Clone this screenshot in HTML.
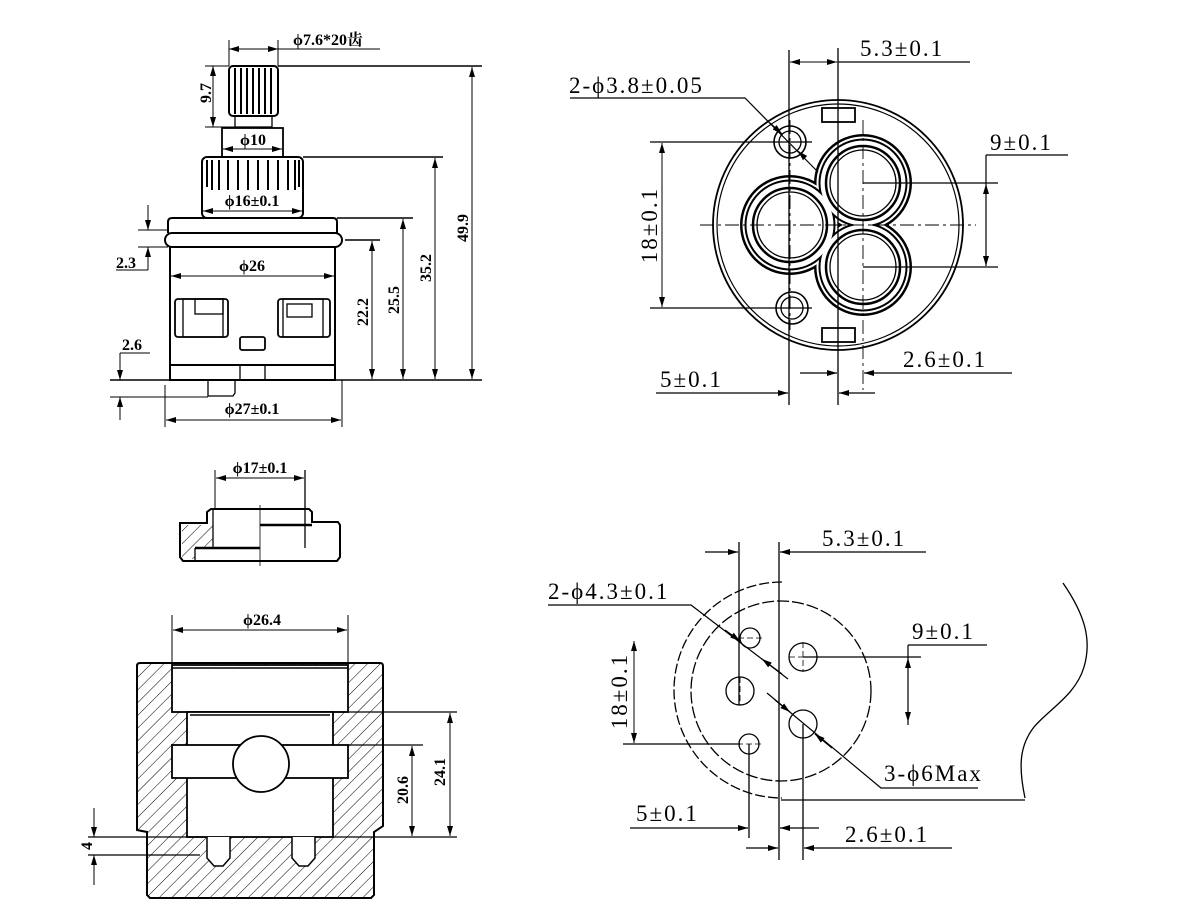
<!DOCTYPE html>
<html><head><meta charset="utf-8"><style>
html,body{margin:0;padding:0;background:#fff}
svg{display:block}
text{font-family:"Liberation Serif","Noto Serif CJK SC",serif;fill:#000}
.b{font-weight:bold;font-size:16px}
.t{font-size:23px;letter-spacing:2px}
</style></head><body>
<svg width="1200" height="900" viewBox="0 0 1200 900" xmlns="http://www.w3.org/2000/svg">
<defs>
<pattern id="h" width="9" height="9" patternUnits="userSpaceOnUse" patternTransform="rotate(45)">
<line x1="0" y1="0" x2="0" y2="9" stroke="#000" stroke-width="1"/></pattern>
<marker id="a" viewBox="0 0 10 6" refX="10" refY="3" markerWidth="10" markerHeight="6" orient="auto-start-reverse" markerUnits="userSpaceOnUse">
<path d="M0,0 L10,3 L0,6 Z" fill="#000"/></marker>
</defs>
<rect width="1200" height="900" fill="#fff"/>
<g stroke="#000" fill="none" stroke-width="1.3">
<!-- ===== TOP LEFT ===== -->
<rect x="229" y="66" width="49" height="50" rx="4" stroke-width="2"/>
<g stroke-width="2"><line x1="235" y1="68" x2="235" y2="114"/><line x1="241" y1="68" x2="241" y2="114"/><line x1="247" y1="68" x2="247" y2="114"/><line x1="253" y1="68" x2="253" y2="114"/><line x1="259" y1="68" x2="259" y2="114"/><line x1="265" y1="68" x2="265" y2="114"/><line x1="271" y1="68" x2="271" y2="114"/></g>
<rect x="235" y="116" width="37" height="11"/>
<rect x="222" y="128" width="61" height="29" stroke-width="1.8"/>
<rect x="202" y="157" width="101" height="61" rx="5" stroke-width="2"/>
<g stroke-width="2"><line x1="207" y1="160" x2="207" y2="187"/><line x1="212" y1="160" x2="212" y2="190"/><line x1="219" y1="160" x2="219" y2="190"/><line x1="228" y1="160" x2="228" y2="190"/><line x1="238" y1="160" x2="238" y2="190"/><line x1="248" y1="160" x2="248" y2="190"/><line x1="258" y1="160" x2="258" y2="190"/><line x1="268" y1="160" x2="268" y2="190"/><line x1="278" y1="160" x2="278" y2="190"/><line x1="288" y1="160" x2="288" y2="190"/><line x1="295" y1="160" x2="295" y2="190"/><line x1="299" y1="160" x2="299" y2="187"/></g>
<path d="M168,233 L168,222 Q168,218 172,218 L333,218 Q337,218 337,222 L337,233" stroke-width="2"/>
<rect x="165" y="233" width="177" height="14" rx="7" stroke-width="2"/>
<rect x="170" y="247" width="165" height="133" stroke-width="2"/>
<line x1="170" y1="365" x2="335" y2="365" stroke-width="2"/>
<rect x="175" y="299" width="53" height="38" rx="3" stroke-width="1.8"/>
<rect x="183" y="299" width="40" height="38"/><rect x="195" y="299" width="28" height="15"/>
<rect x="278" y="299" width="52" height="38" rx="3" stroke-width="1.8"/>
<rect x="283" y="299" width="40" height="38"/><rect x="287" y="304" width="25" height="13"/>
<rect x="240" y="337" width="25" height="13" rx="2" stroke-width="1.8"/>
<line x1="240" y1="365" x2="240" y2="380"/><line x1="265" y1="365" x2="265" y2="380"/>
<path d="M208,380 L208,396 L233,396 L235,393 L235,380"/>
<!-- dims -->
<line x1="229" y1="40" x2="229" y2="66" stroke-width="1"/><line x1="278" y1="40" x2="278" y2="66" stroke-width="1"/>
<line x1="229" y1="49" x2="278" y2="49" marker-start="url(#a)" marker-end="url(#a)" stroke-width="1"/>
<line x1="278" y1="49" x2="380" y2="49" stroke-width="1"/>
<line x1="278" y1="66" x2="482" y2="66" stroke-width="1.5"/>
<line x1="205" y1="66" x2="229" y2="66" stroke-width="1"/><line x1="205" y1="127" x2="235" y2="127" stroke-width="1"/>
<line x1="213" y1="66" x2="213" y2="127" marker-start="url(#a)" marker-end="url(#a)" stroke-width="1"/>
<line x1="223" y1="149" x2="282" y2="149" marker-start="url(#a)" marker-end="url(#a)" stroke-width="1"/>
<line x1="203" y1="211" x2="302" y2="211" marker-start="url(#a)" marker-end="url(#a)" stroke-width="1"/>
<line x1="171" y1="276" x2="334" y2="276" marker-start="url(#a)" marker-end="url(#a)" stroke-width="1"/>
<line x1="303" y1="157" x2="443" y2="157" stroke-width="1.5"/>
<line x1="337" y1="218" x2="413" y2="218" stroke-width="1.5"/>
<line x1="345" y1="240" x2="380" y2="240" stroke-width="1.5"/>
<line x1="110" y1="380" x2="482" y2="380" stroke-width="1.5"/>
<line x1="472" y1="67" x2="472" y2="379" marker-start="url(#a)" marker-end="url(#a)" stroke-width="1"/>
<line x1="435" y1="158" x2="435" y2="379" marker-start="url(#a)" marker-end="url(#a)" stroke-width="1"/>
<line x1="403" y1="219" x2="403" y2="379" marker-start="url(#a)" marker-end="url(#a)" stroke-width="1"/>
<line x1="372" y1="241" x2="372" y2="379" marker-start="url(#a)" marker-end="url(#a)" stroke-width="1"/>
<line x1="138" y1="230" x2="168" y2="230" stroke-width="1"/><line x1="138" y1="247" x2="168" y2="247" stroke-width="1"/>
<line x1="148" y1="205" x2="148" y2="230" marker-end="url(#a)" stroke-width="1"/><line x1="148" y1="270" x2="148" y2="247" marker-end="url(#a)" stroke-width="1"/>
<line x1="116" y1="270" x2="148" y2="270" stroke-width="1"/>
<line x1="120" y1="353" x2="150" y2="353" stroke-width="1"/>
<line x1="120" y1="353" x2="120" y2="380" marker-end="url(#a)" stroke-width="1"/>
<line x1="120" y1="420" x2="120" y2="397" marker-end="url(#a)" stroke-width="1"/>
<line x1="110" y1="397" x2="208" y2="397" stroke-width="1"/>
<line x1="165" y1="385" x2="165" y2="427" stroke-width="1"/><line x1="342" y1="380" x2="342" y2="427" stroke-width="1"/>
<line x1="166" y1="420" x2="341" y2="420" marker-start="url(#a)" marker-end="url(#a)" stroke-width="1"/>

<!-- ===== TOP RIGHT ===== -->
<circle cx="838" cy="225" r="125" stroke-width="1.8"/>
<circle cx="838" cy="225" r="121" stroke-width="1.2"/>
<rect x="822" y="108" width="33" height="14" stroke-width="1.8"/>
<rect x="822" y="328" width="33" height="14" stroke-width="1.8"/>
<circle cx="790" cy="142" r="16" stroke-width="1.6"/><circle cx="790" cy="142" r="11"/>
<circle cx="792" cy="308" r="16" stroke-width="1.6"/><circle cx="792" cy="308" r="11"/>
<g stroke="none">
<g fill="#000"><circle cx="863" cy="183" r="49"/><circle cx="863" cy="267" r="49"/><circle cx="790" cy="225" r="50"/></g>
<g fill="#fff"><circle cx="863" cy="183" r="46.5"/><circle cx="863" cy="267" r="46.5"/><circle cx="790" cy="225" r="47.5"/></g>
<g fill="#000"><circle cx="863" cy="183" r="44.5"/><circle cx="863" cy="267" r="44.5"/><circle cx="790" cy="225" r="45.5"/></g>
<g fill="#fff"><circle cx="863" cy="183" r="42.5"/><circle cx="863" cy="267" r="42.5"/><circle cx="790" cy="225" r="43.5"/></g>
</g>
<circle cx="863" cy="183" r="37" stroke-width="2.5"/><circle cx="863" cy="183" r="33"/>
<circle cx="863" cy="267" r="37" stroke-width="2.5"/><circle cx="863" cy="267" r="33"/>
<circle cx="790" cy="225" r="37" stroke-width="2.5"/><circle cx="790" cy="225" r="33"/>
<g stroke-width="0.9" stroke-dasharray="14,4,3,4"><line x1="700" y1="225" x2="976" y2="225"/><line x1="863" y1="120" x2="863" y2="390"/><line x1="790" y1="120" x2="790" y2="330"/></g>
<line x1="789" y1="50" x2="789" y2="405" stroke-width="1.3"/><line x1="838" y1="48" x2="838" y2="405" stroke-width="1.3"/>
<line x1="790" y1="62" x2="837" y2="62" marker-start="url(#a)" marker-end="url(#a)" stroke-width="1"/>
<line x1="838" y1="62" x2="970" y2="62" stroke-width="1.2"/>
<path d="M570,98 L745,98 L818,172" stroke-width="1.2"/>
<line x1="770" y1="123" x2="782" y2="134" marker-end="url(#a)" stroke-width="1.2"/>
<line x1="805" y1="158" x2="798" y2="151" marker-end="url(#a)" stroke-width="1.2"/>
<line x1="650" y1="142" x2="812" y2="142" stroke-width="1.2"/><line x1="650" y1="308" x2="812" y2="308" stroke-width="1.2"/>
<line x1="662" y1="143" x2="662" y2="307" marker-start="url(#a)" marker-end="url(#a)" stroke-width="1"/>
<line x1="863" y1="183" x2="998" y2="183" stroke-width="1.2"/><line x1="863" y1="267" x2="998" y2="267" stroke-width="1.2"/>
<line x1="986" y1="155" x2="1068" y2="155" stroke-width="1.2"/><line x1="986" y1="155" x2="986" y2="266" stroke-width="1.2"/>
<line x1="986" y1="184" x2="986" y2="266" marker-start="url(#a)" marker-end="url(#a)" stroke-width="1"/>
<line x1="800" y1="373" x2="837" y2="373" marker-end="url(#a)" stroke-width="1.2"/>
<line x1="1012" y1="373" x2="864" y2="373" marker-end="url(#a)" stroke-width="1.2"/>
<line x1="656" y1="393" x2="788" y2="393" marker-end="url(#a)" stroke-width="1.2"/>
<line x1="875" y1="393" x2="839" y2="393" marker-end="url(#a)" stroke-width="1.2"/>

<!-- ===== φ17 view ===== -->
<path d="M180,523 L207,523 L207,512 L211,509 L309,509 L312,512 L312,522 L338,522 L340,525 L340,557 L337,561 L183,561 L180,557 Z" fill="#fff" stroke-width="2"/>
<path d="M182,525 L207,525 L213,523 L213,548 L195,548 L195,559 L182,559 Z" fill="url(#h)" stroke="none"/>
<line x1="213" y1="510" x2="213" y2="548"/>
<line x1="195" y1="548" x2="260" y2="548" stroke-width="2.5"/>
<line x1="195" y1="548" x2="195" y2="561"/>
<line x1="260" y1="525" x2="312" y2="525" stroke-width="2.5"/>
<line x1="260" y1="505" x2="260" y2="566" stroke-width="0.8"/>
<line x1="215" y1="470" x2="215" y2="510" stroke-width="1"/><line x1="305" y1="470" x2="305" y2="548" stroke-width="1.3"/>
<line x1="216" y1="478" x2="304" y2="478" marker-start="url(#a)" marker-end="url(#a)" stroke-width="1"/>

<!-- ===== Section bottom-left ===== -->
<path d="M137,666 Q137,663 140,663 L380,663 Q383,663 383,666 L383,826 L374,832 L374,895 L371,898 L150,898 L147,895 L147,832 L137,830 Z" fill="url(#h)" stroke-width="2"/>
<rect x="172" y="665" width="176" height="47" fill="#fff" stroke-width="1.8"/>
<rect x="187" y="712" width="146" height="125" fill="#fff" stroke-width="1.8"/>
<line x1="172" y1="668" x2="348" y2="668" stroke-width="1.5"/>
<line x1="190" y1="715" x2="330" y2="715" stroke-width="1.5"/>
<rect x="172" y="745" width="176" height="33" fill="#fff" stroke-width="1.8"/>
<circle cx="261" cy="764" r="28" fill="#fff" stroke-width="1.8"/>
<path d="M207,837 L207,858 L214,866 L223,866 L230,858 L230,837" fill="#fff" stroke-width="1.5"/>
<path d="M292,837 L292,858 L299,866 L308,866 L315,858 L315,837" fill="#fff" stroke-width="1.5"/>
<line x1="172" y1="615" x2="172" y2="665" stroke-width="1"/><line x1="348" y1="615" x2="348" y2="665" stroke-width="1"/>
<line x1="173" y1="630" x2="347" y2="630" marker-start="url(#a)" marker-end="url(#a)" stroke-width="1"/>
<line x1="333" y1="712" x2="457" y2="712" stroke-width="1.2"/>
<line x1="348" y1="745" x2="423" y2="745" stroke-width="1.2"/>
<line x1="333" y1="837" x2="457" y2="837" stroke-width="1.2"/>
<line x1="450" y1="713" x2="450" y2="836" marker-start="url(#a)" marker-end="url(#a)" stroke-width="1"/>
<line x1="412" y1="746" x2="412" y2="836" marker-start="url(#a)" marker-end="url(#a)" stroke-width="1"/>
<line x1="88" y1="837" x2="207" y2="837" stroke-width="1.2"/><line x1="88" y1="855" x2="200" y2="855" stroke-width="1.2"/>
<line x1="94" y1="808" x2="94" y2="837" marker-end="url(#a)" stroke-width="1"/>
<line x1="94" y1="885" x2="94" y2="855" marker-end="url(#a)" stroke-width="1"/>

<!-- ===== bottom-right ===== -->
<path d="M782,582 A108,108 0 0 0 782,798" stroke-dasharray="10,3" stroke-width="1.3"/>
<circle cx="781" cy="691" r="90" stroke-dasharray="12,3" stroke-width="1.3"/>
<circle cx="750" cy="638" r="10"/><circle cx="803" cy="657" r="14"/><circle cx="740" cy="691" r="14"/><circle cx="803" cy="724" r="14"/><circle cx="749" cy="744" r="10"/>
<g stroke-width="0.8" stroke-dasharray="6,3"><line x1="803" y1="642" x2="803" y2="672"/><line x1="789" y1="657" x2="817" y2="657"/><line x1="740" y1="677" x2="740" y2="705"/><line x1="738" y1="638" x2="762" y2="638"/><line x1="737" y1="744" x2="761" y2="744"/></g>
<line x1="739" y1="542" x2="739" y2="705" stroke-width="1.3"/>
<line x1="779" y1="542" x2="779" y2="860" stroke-width="1.3"/>
<line x1="749" y1="744" x2="749" y2="838" stroke-width="1.3"/>
<line x1="803" y1="724" x2="803" y2="860" stroke-width="1.3"/>
<line x1="705" y1="552" x2="738" y2="552" marker-end="url(#a)" stroke-width="1.2"/>
<line x1="926" y1="552" x2="780" y2="552" marker-end="url(#a)" stroke-width="1.2"/>
<path d="M548,605 L691,605 L788,679" stroke-width="1.2"/>
<line x1="725" y1="630" x2="740" y2="641" marker-end="url(#a)" stroke-width="1.2"/>
<line x1="782" y1="674" x2="762" y2="659" marker-end="url(#a)" stroke-width="1.2"/>
<line x1="803" y1="657" x2="921" y2="657" stroke-width="1.2"/>
<line x1="908" y1="645" x2="987" y2="645" stroke-width="1.2"/>
<line x1="908" y1="645" x2="908" y2="725" stroke-width="1.2"/>
<line x1="908" y1="658" x2="908" y2="722" marker-start="url(#a)" marker-end="url(#a)" stroke-width="1"/>
<line x1="623" y1="744" x2="740" y2="744" stroke-width="1.2"/>
<line x1="634" y1="641" x2="634" y2="743" marker-start="url(#a)" marker-end="url(#a)" stroke-width="1"/>
<path d="M767,693 L881,788 L978,788" stroke-width="1.2"/>
<line x1="775" y1="700" x2="790" y2="712" marker-end="url(#a)" stroke-width="1.2"/>
<line x1="832" y1="748" x2="815" y2="734" marker-end="url(#a)" stroke-width="1.2"/>
<line x1="630" y1="828" x2="748" y2="828" marker-end="url(#a)" stroke-width="1.2"/>
<line x1="819" y1="828" x2="780" y2="828" marker-end="url(#a)" stroke-width="1.2"/>
<line x1="746" y1="848" x2="778" y2="848" marker-end="url(#a)" stroke-width="1.2"/>
<line x1="952" y1="848" x2="804" y2="848" marker-end="url(#a)" stroke-width="1.2"/>
<path d="M1063,583 C1085,615 1092,640 1084,667 C1076,695 1048,710 1034,727 C1020,745 1018,765 1025,798" stroke-width="1.3"/>
<line x1="781" y1="800" x2="1025" y2="800" stroke-width="1.2"/>
</g>

<!-- text -->
<text class="b" x="293" y="45">ϕ7.6*20齿</text>
<text class="b" x="0" y="0" transform="translate(211,93) rotate(-90)" text-anchor="middle">9.7</text>
<text class="b" x="253" y="145" text-anchor="middle">ϕ10</text>
<text class="b" x="252" y="206" text-anchor="middle">ϕ16±0.1</text>
<text class="b" x="252" y="271" text-anchor="middle">ϕ26</text>
<text class="b" x="252" y="414" text-anchor="middle">ϕ27±0.1</text>
<text class="b" x="116" y="268">2.3</text>
<text class="b" x="122" y="350">2.6</text>
<g font-size="16" font-weight="bold">
<text x="0" y="0" transform="translate(368,312) rotate(-90)" text-anchor="middle">22.2</text>
<text x="0" y="0" transform="translate(399,300) rotate(-90)" text-anchor="middle">25.5</text>
<text x="0" y="0" transform="translate(431,268) rotate(-90)" text-anchor="middle">35.2</text>
<text x="0" y="0" transform="translate(468,228) rotate(-90)" text-anchor="middle">49.9</text>
<text x="0" y="0" transform="translate(408,790) rotate(-90)" text-anchor="middle">20.6</text>
<text x="0" y="0" transform="translate(445,772) rotate(-90)" text-anchor="middle">24.1</text>
<text x="0" y="0" transform="translate(92,846) rotate(-90)" text-anchor="middle">4</text>
</g>
<text class="b" x="260" y="473" text-anchor="middle">ϕ17±0.1</text>
<text class="b" x="262" y="625" text-anchor="middle">ϕ26.4</text>
<text class="t" x="860" y="56">5.3±0.1</text>
<text class="t" x="569" y="93">2-ϕ3.8±0.05</text>
<text class="t" x="990" y="150">9±0.1</text>
<text class="t" x="0" y="0" transform="translate(657,225) rotate(-90)" text-anchor="middle">18±0.1</text>
<text class="t" x="903" y="367">2.6±0.1</text>
<text class="t" x="660" y="387">5±0.1</text>
<text class="t" x="822" y="546" font-size="22">5.3±0.1</text>
<text class="t" x="548" y="599" font-size="22">2-ϕ4.3±0.1</text>
<text class="t" x="912" y="639" font-size="22">9±0.1</text>
<text class="t" x="0" y="0" font-size="22" transform="translate(627,691) rotate(-90)" text-anchor="middle">18±0.1</text>
<text class="t" x="884" y="781" font-size="21" letter-spacing="0">3-ϕ6Max</text>
<text class="t" x="636" y="821" font-size="22">5±0.1</text>
<text class="t" x="845" y="842" font-size="22">2.6±0.1</text>
</svg>
</body></html>
